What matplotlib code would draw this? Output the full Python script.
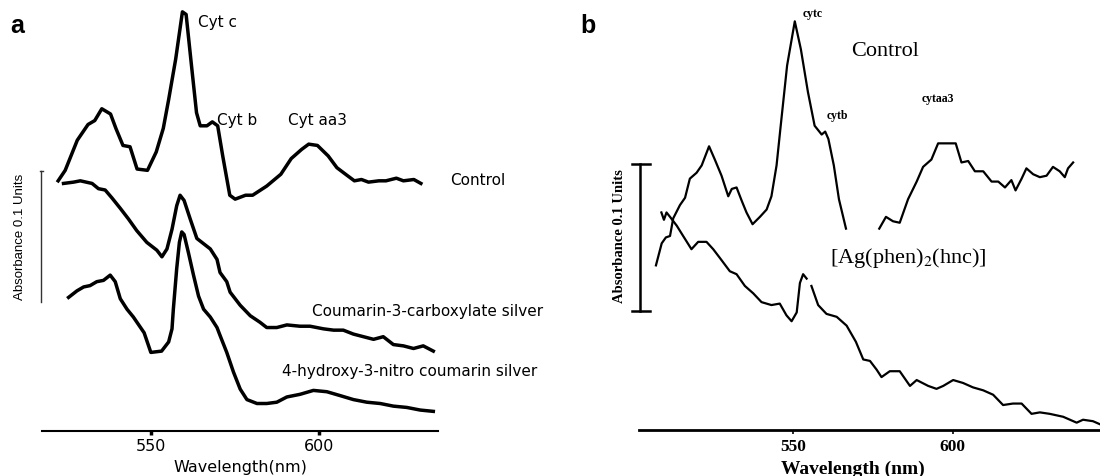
import matplotlib
matplotlib.use("Agg")
import matplotlib.pyplot as plt

plt.rcParams["mathtext.fontset"] = "stix"

# ---- panel a: wavelength (nm) / absorbance ----
ctrl_a_nm = [522.3, 524.4, 528.0, 531.2, 533.2, 535.3, 537.9, 539.5, 541.6, 543.7,
             545.8, 548.9, 551.5, 553.6, 555.2, 557.3, 559.3, 560.4, 562.0, 563.5,
             564.6, 566.6, 568.2, 569.8, 571.3, 573.4, 575.0, 578.1, 580.2, 584.4,
             588.6, 591.7, 594.8, 596.9, 599.5, 602.7, 605.3, 608.4, 610.5, 612.6,
             614.7, 617.8, 619.9, 623.0, 625.1, 628.2, 630.3]
ctrl_a_abs = [0.191, 0.199, 0.222, 0.234, 0.237, 0.246, 0.242, 0.231, 0.218, 0.217,
              0.200, 0.199, 0.213, 0.231, 0.253, 0.284, 0.320, 0.318, 0.279, 0.243,
              0.233, 0.233, 0.236, 0.233, 0.210, 0.180, 0.177, 0.180, 0.180, 0.187,
              0.196, 0.208, 0.215, 0.219, 0.218, 0.210, 0.201, 0.195, 0.191, 0.192,
              0.190, 0.191, 0.191, 0.193, 0.191, 0.192, 0.189]

coum_nm = [523.9, 526.9, 528.9, 532.4, 534.3, 536.3, 538.3, 540.8, 543.2, 545.7,
           548.7, 551.7, 553.2, 554.7, 556.2, 557.6, 558.6, 559.8, 561.6, 563.6,
           565.6, 567.6, 569.6, 570.5, 572.5, 573.5, 576.5, 579.5, 582.4, 584.4,
           587.4, 590.4, 594.3, 597.3, 601.3, 604.3, 607.2, 610.2, 613.2, 616.2,
           619.1, 622.1, 625.1, 628.1, 631.0, 634.0]
coum_abs = [0.189, 0.190, 0.191, 0.189, 0.185, 0.184, 0.178, 0.170, 0.162, 0.153,
            0.144, 0.138, 0.133, 0.139, 0.154, 0.172, 0.180, 0.176, 0.162, 0.147,
            0.143, 0.139, 0.131, 0.121, 0.114, 0.106, 0.096, 0.088, 0.083, 0.079,
            0.079, 0.081, 0.080, 0.080, 0.078, 0.077, 0.077, 0.074, 0.072, 0.070,
            0.072, 0.066, 0.065, 0.063, 0.065, 0.061]

hnc_nm = [525.4, 527.9, 529.9, 531.8, 533.8, 535.8, 537.8, 539.3, 540.8, 542.8,
          544.7, 547.9, 549.9, 553.1, 555.2, 556.2, 556.6, 557.6, 558.4, 559.1,
          559.8, 561.1, 562.6, 564.1, 565.6, 567.6, 569.6, 570.5, 572.5, 574.5,
          576.5, 578.5, 581.5, 584.4, 587.4, 590.4, 594.3, 598.3, 602.3, 606.3,
          610.2, 614.2, 618.2, 622.1, 626.1, 630.1, 634.0]
hnc_abs = [0.102, 0.107, 0.110, 0.111, 0.114, 0.115, 0.119, 0.114, 0.101, 0.093,
           0.087, 0.075, 0.060, 0.061, 0.068, 0.078, 0.093, 0.124, 0.144, 0.152,
           0.150, 0.136, 0.119, 0.103, 0.093, 0.087, 0.079, 0.073, 0.060, 0.045,
           0.032, 0.024, 0.021, 0.021, 0.022, 0.026, 0.028, 0.031, 0.030, 0.027,
           0.024, 0.022, 0.021, 0.019, 0.018, 0.016, 0.015]

# ---- panel b: the traces have gaps, so each is kept as two pieces ----
ctrl_b1_nm = [507.2, 509.0, 510.3, 511.6, 512.6, 514.7, 516.3, 517.8, 519.9, 521.5,
              523.8, 525.6, 527.7, 529.8, 530.9, 532.4, 534.0, 535.5, 537.4, 539.7,
              541.8, 543.3, 544.9, 546.1, 548.2, 550.6, 552.5, 554.7, 556.8, 559.0,
              560.1, 561.1, 562.8, 564.4, 566.6]
ctrl_b1_abs = [0.112, 0.127, 0.131, 0.132, 0.144, 0.153, 0.158, 0.171, 0.175, 0.180,
               0.193, 0.184, 0.173, 0.159, 0.164, 0.165, 0.156, 0.148, 0.140, 0.145,
               0.150, 0.159, 0.180, 0.205, 0.248, 0.278, 0.259, 0.230, 0.207, 0.201,
               0.203, 0.198, 0.180, 0.157, 0.137]
ctrl_b2_nm = [577.0, 579.1, 581.3, 583.4, 586.0, 588.7, 590.7, 593.3, 595.4, 599.1,
              600.9, 602.7, 604.8, 606.9, 609.5, 612.1, 614.2, 616.3, 618.3, 619.6,
              621.5, 623.0, 625.1, 627.2, 629.3, 631.3, 633.4, 635.0, 636.0, 637.6]
ctrl_b2_abs = [0.137, 0.145, 0.142, 0.141, 0.157, 0.169, 0.179, 0.184, 0.195, 0.195,
               0.195, 0.182, 0.183, 0.176, 0.176, 0.169, 0.169, 0.165, 0.170, 0.163,
               0.171, 0.178, 0.174, 0.172, 0.173, 0.179, 0.176, 0.172, 0.178, 0.182]

ag_b1_nm = [508.9, 509.7, 510.5, 511.6, 513.7, 515.7, 518.3, 520.4, 523.0, 525.1,
            527.2, 530.3, 532.4, 535.0, 537.6, 540.2, 543.3, 545.9, 548.0, 549.6,
            551.2, 552.2, 553.2, 554.3]
ag_b1_abs = [0.148, 0.143, 0.148, 0.145, 0.139, 0.132, 0.123, 0.128, 0.128, 0.123,
             0.117, 0.108, 0.106, 0.098, 0.093, 0.087, 0.085, 0.086, 0.078, 0.074,
             0.080, 0.100, 0.106, 0.103]
ag_b2_nm = [555.8, 557.9, 560.5, 563.7, 566.8, 569.7, 572.0, 574.1, 576.2, 577.7,
            580.3, 583.4, 586.6, 588.7, 592.3, 594.9, 597.0, 600.1, 603.2, 606.3,
            609.5, 612.6, 615.7, 618.8, 621.5, 624.6, 627.2, 630.3, 634.5, 638.7,
            640.7, 643.8, 645.9]
ag_b2_abs = [0.098, 0.085, 0.079, 0.077, 0.071, 0.060, 0.048, 0.047, 0.041, 0.036,
             0.040, 0.040, 0.030, 0.034, 0.030, 0.028, 0.030, 0.034, 0.032, 0.029,
             0.027, 0.024, 0.017, 0.018, 0.018, 0.011, 0.012, 0.011, 0.009, 0.005,
             0.007, 0.006, 0.004]

ticks = [550, 600]
SCALE = 0.1  # absorbance scale bar

SANS = ["DejaVu Sans"]
SERIF = ["Liberation Serif", "DejaVu Serif"]

fig = plt.figure(figsize=(11, 4.77), dpi=100)

# ---------------- panel a ----------------
axa = fig.add_axes([0.0382, 0.0943, 0.36, 0.9057])
axa.patch.set_alpha(0)
for xs, ys in [(ctrl_a_nm, ctrl_a_abs), (coum_nm, coum_abs), (hnc_nm, hnc_abs)]:
    axa.plot(xs, ys, color="black", lw=2.5, solid_joinstyle="round")
axa.set_xlim(517.5, 635.4)
axa.set_ylim(0, 0.3298)
for s in ["left", "right", "top"]:
    axa.spines[s].set_visible(False)
axa.spines["bottom"].set_linewidth(1.5)
axa.set_yticks([])
axa.set_xticks(ticks)
axa.tick_params(axis="x", direction="out", length=3, width=2.5, pad=2, labelsize=11.5)
for lab in axa.get_xticklabels():
    lab.set_family(SANS)
axa.set_xlabel("Wavelength(nm)", fontsize=11.5, family=SANS)
axa.xaxis.set_label_coords(0.5, -0.065)
# scale bar
axa.plot([517.3, 517.3], [0.0985, 0.0985 + SCALE], color="#333333", lw=1.0, clip_on=False)
axa.plot([517.0, 517.7], [0.0985 + SCALE] * 2, color="#333333", lw=1.0, clip_on=False)
fig.text(0.018, 0.503, "Absorbance 0.1 Units", rotation=90, ha="center", va="center",
         fontsize=9.5, family=["Liberation Sans", "DejaVu Sans"])

lab_kw = dict(fontsize=11, family=SANS, va="center", ha="left")
axa.text(564.0, 0.313, "Cyt c", **lab_kw)
axa.text(569.6, 0.238, "Cyt b", **lab_kw)
axa.text(590.8, 0.238, "Cyt aa3", **lab_kw)
axa.text(639.0, 0.192, "Control", **lab_kw)
axa.text(597.9, 0.092, "Coumarin-3-carboxylate silver", **lab_kw)
axa.text(588.9, 0.046, "4-hydroxy-3-nitro coumarin silver", **lab_kw)

fig.text(0.009, 0.93, "a", fontsize=18, fontweight="bold", family=["Liberation Sans", "DejaVu Sans"])

# ---------------- panel b ----------------
axb = fig.add_axes([0.5809, 0.0964, 0.4191, 0.9036])
axb.patch.set_alpha(0)
for xs, ys in [(ctrl_b1_nm, ctrl_b1_abs), (ctrl_b2_nm, ctrl_b2_abs),
               (ag_b1_nm, ag_b1_abs), (ag_b2_nm, ag_b2_abs)]:
    axb.plot(xs, ys, color="black", lw=1.6, solid_joinstyle="round")
axb.set_xlim(501.9, 646.0)
axb.set_ylim(0, 0.2932)
for s in ["left", "right", "top"]:
    axb.spines[s].set_visible(False)
axb.spines["bottom"].set_linewidth(2.0)
axb.set_yticks([])
axb.set_xticks(ticks)
axb.tick_params(axis="x", direction="out", length=3, width=1.2, pad=3, labelsize=12.5)
for lab in axb.get_xticklabels():
    lab.set_family(SERIF)
    lab.set_fontweight("bold")
axb.set_xlabel("Wavelength (nm)", fontsize=14, family=SERIF, fontweight="bold")
axb.xaxis.set_label_coords(0.463, -0.068)
# scale bar with caps
axb.plot([502.2, 502.2], [0.081, 0.081 + SCALE], color="black", lw=1.8, clip_on=False)
for yb in [0.081, 0.081 + SCALE]:
    axb.plot([499.7, 505.3], [yb, yb], color="black", lw=1.8, clip_on=False)
fig.text(0.5636, 0.505, "Absorbance 0.1 Units", rotation=90, ha="center", va="center",
         fontsize=10.5, family=SERIF, fontweight="bold")

axb.text(553.1, 0.284, "cytc", fontsize=8.5, family=SERIF, fontweight="bold", ha="left", va="center")
axb.text(560.6, 0.214, "cytb", fontsize=8.5, family=SERIF, fontweight="bold", ha="left", va="center")
axb.text(590.2, 0.226, "cytaa3", fontsize=8.5, family=SERIF, fontweight="bold", ha="left", va="center")
axb.text(568.1, 0.258, "Control", fontsize=16, family=SERIF, ha="left", va="center")
axb.text(561.6, 0.118, r"[Ag(phen)$_2$(hnc)]", fontsize=16, family=SERIF, ha="left", va="center")

fig.text(0.528, 0.93, "b", fontsize=18, fontweight="bold", family=["Liberation Sans", "DejaVu Sans"])

fig.savefig("out.png", dpi=100)
